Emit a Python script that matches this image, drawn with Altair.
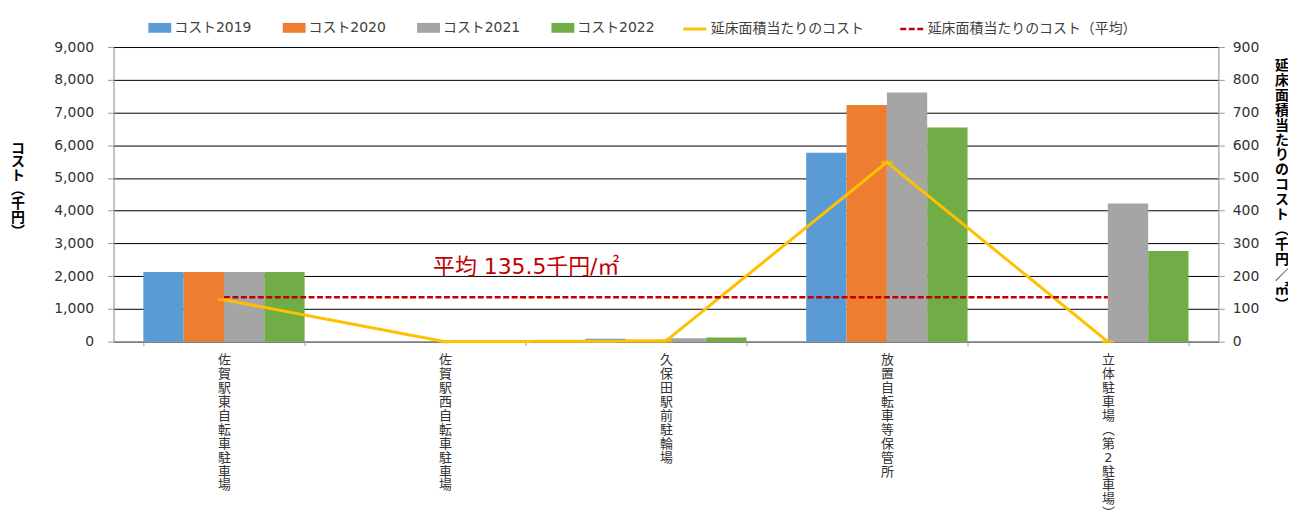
import altair as alt
import pandas as pd

FONT = "DejaVu Sans, Noto Sans CJK JP"

categories = [
    "佐賀駅東自転車駐車場",
    "佐賀駅西自転車駐車場",
    "久保田駅前駐輪場",
    "放置自転車等保管所",
    "立体駐車場（第2駐車場）",
]
series = ["コスト2019", "コスト2020", "コスト2021", "コスト2022"]
cost2019 = [2130, 0, 90, 5770, 0]
cost2020 = [2130, 0, 60, 7230, 0]
cost2021 = [2130, 0, 100, 7610, 4220]
cost2022 = [2130, 0, 130, 6540, 2770]

line_name = "延床面積当たりのコスト"
avg_name = "延床面積当たりのコスト（平均）"
per_area = [128, 0, 2, 548, 0]
avg_value = 135.5

left_title = "コスト（千円）"
right_title = "延床面積当たりのコスト（千円／㎡）"

bar_colors = ["#5B9BD5", "#ED7D31", "#A5A5A5", "#70AD47"]
line_colors = ["#FFC000", "#C00000"]
left_ticks = list(range(0, 9001, 1000))
right_ticks = list(range(0, 901, 100))

rows = []
for s, vals in zip(series, [cost2019, cost2020, cost2021, cost2022]):
    for c, v in zip(categories, vals):
        rows.append({"category": c, "series": s, "cost": v})
bars_df = pd.DataFrame(rows)

lrows = []
for c, v in zip(categories, per_area):
    lrows.append({"category": c, "line": line_name, "value": v})
for c in categories:
    lrows.append({"category": c, "line": avg_name, "value": avg_value})
lines_df = pd.DataFrame(lrows)
marker_df = pd.DataFrame({"category": categories, "value": per_area})
label_df = pd.DataFrame({"label": [f"平均 {avg_value}千円/㎡"]})


def vertical(s):
    return "|".join(s.replace("（", "︵").replace("）", "︶"))


titles_df = pd.DataFrame({"left": [vertical(left_title)], "right": [vertical(right_title)]})

bar_legend = alt.Legend(
    orient="none", legendX=35, legendY=-31, direction="horizontal", columns=4,
    title=None, symbolSize=529, symbolType="M-1,-0.43H1V0.43H-1Z", symbolStrokeWidth=0,
    labelFontSize=14, labelFont=FONT, labelColor="#404040",
    columnPadding=31, labelOffset=3, padding=0, labelLimit=0,
)
line_legend = alt.Legend(
    orient="none", legendX=571, legendY=-31, direction="horizontal", columns=2,
    title=None, symbolSize=529, symbolType="stroke", symbolStrokeWidth=3,
    labelFontSize=14, labelFont=FONT, labelColor="#404040",
    columnPadding=31, labelOffset=3, padding=0, labelLimit=0,
)

x_axis = alt.Axis(
    title=None, labelAngle=0, labelAlign="center", labelBaseline="top",
    labelExpr="split(replace(replace(datum.label,'（','︵'),'）','︶'),'')",
    labelLineHeight=14, labelFontSize=13, labelFont=FONT, labelPadding=8,
    labelOverlap=False, labelLimit=0, labelColor="#333333",
    tickBand="extent", tickSize=4, tickColor="#999999", domainColor="#999999",
)

x_enc = alt.X("category:N", sort=categories,
              scale=alt.Scale(paddingInner=0.27, paddingOuter=0.135), axis=x_axis)
x_plain = alt.X("category:N", sort=categories, axis=x_axis)

bars = alt.Chart(bars_df).mark_bar().encode(
    x=x_enc,
    xOffset=alt.XOffset("series:N", sort=series, scale=alt.Scale(paddingInner=0, paddingOuter=0)),
    y=alt.Y("cost:Q", scale=alt.Scale(domain=[0, 9000], nice=False),
            axis=alt.Axis(
                title=None,
                values=left_ticks, format=",.0f", labelFontSize=14, labelFont=FONT,
                labelColor="#333333", labelPadding=14, tickSize=6, labelOverlap=False,
                grid=True, gridColor="#000000", gridWidth=1,
                domainColor="#999999", tickColor="#999999")),
    color=alt.Color("series:N", sort=series,
                    scale=alt.Scale(domain=series, range=bar_colors), legend=bar_legend),
)

right_axis = alt.Axis(
    orient="right", title=None,
    values=right_ticks, format=".0f", labelFontSize=14, labelFont=FONT,
    labelColor="#333333", labelPadding=8, tickSize=6, grid=False,
    labelOverlap=False, domainColor="#999999", tickColor="#999999")
right_scale = alt.Scale(domain=[0, 900], nice=False)
y_right = alt.Y("value:Q", scale=right_scale, axis=right_axis)

lines = alt.Chart(lines_df).mark_line().encode(
    x=x_plain, y=y_right,
    stroke=alt.Stroke("line:N",
                      scale=alt.Scale(domain=[line_name, avg_name], range=line_colors),
                      legend=line_legend),
    strokeDash=alt.StrokeDash("line:N",
                              scale=alt.Scale(domain=[line_name, avg_name], range=[[1, 0], [6, 2.5]]),
                              legend=line_legend),
    strokeWidth=alt.StrokeWidth("line:N",
                                scale=alt.Scale(domain=[line_name, avg_name], range=[3, 2.5]),
                                legend=None),
)
markers = alt.Chart(marker_df).mark_tick(color="#FFC000", size=12, thickness=3).encode(
    x=x_plain, y=y_right)
note = alt.Chart(label_df).mark_text(
    align="left", baseline="middle", fontSize=22, font=FONT, color="#C00000", dx=-12
).encode(x=alt.XDatum(categories[1], axis=x_axis),
         y=alt.YDatum(228, scale=right_scale, axis=right_axis), text="label:N")

left_t = alt.Chart(titles_df).mark_text(
    lineBreak="|", lineHeight=14, fontSize=14, fontWeight="bold", font=FONT,
    color="#000000", align="center", baseline="middle"
).encode(x=alt.value(-96), y=alt.value(102), text="left:N")
right_t = alt.Chart(titles_df).mark_text(
    lineBreak="|", lineHeight=15, fontSize=14, fontWeight="bold", font=FONT,
    color="#000000", align="center", baseline="middle"
).encode(x=alt.value(1174), y=alt.value(19), text="right:N")

right = alt.layer(lines, markers, note)

chart = alt.layer(bars, right, left_t, right_t).resolve_scale(y="independent").properties(
    width=1110, height=296,
    padding={"left": 106, "top": 38, "right": 70, "bottom": 180},
    autosize=alt.AutoSizeParams(type="none"),
).configure_view(stroke="transparent").configure(font=FONT)

chart.save("out.html", embed_options={"renderer": "svg", "actions": False})
